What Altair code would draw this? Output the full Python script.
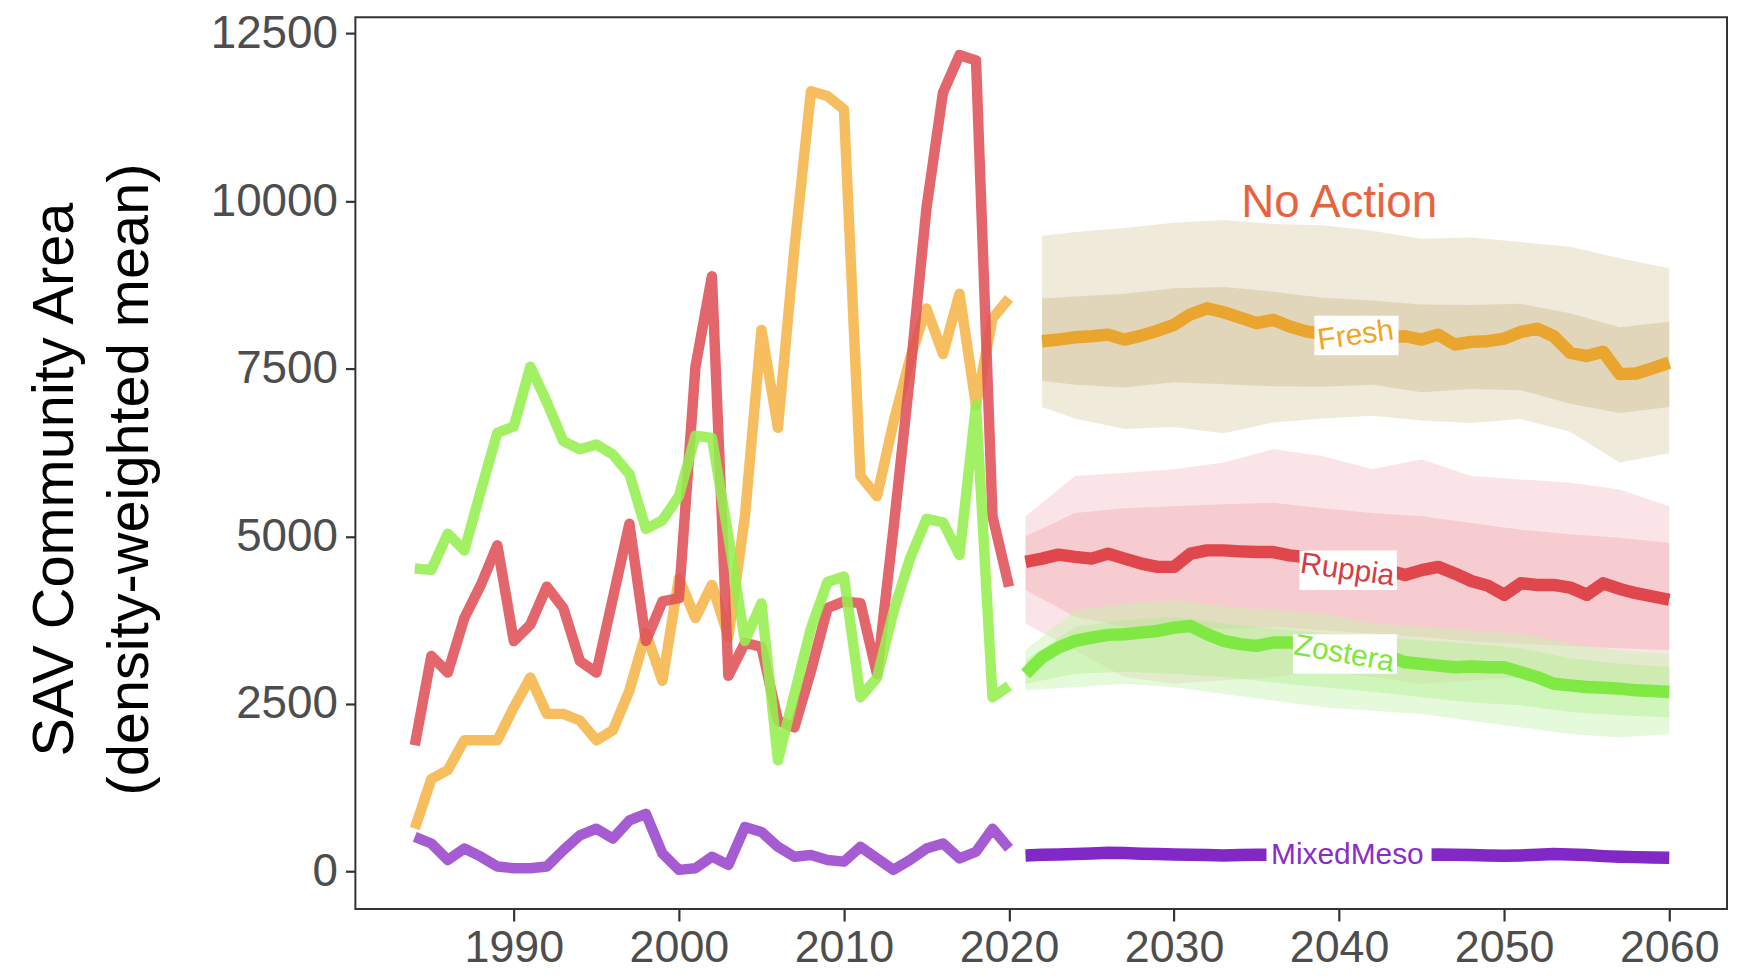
import altair as alt
import pandas as pd

# ---------------- data ----------------
hist_years = list(range(1984, 2021))
fresh_hist = [640, 1380, 1514, 1958, 1958, 1958, 2450, 2894, 2352, 2352,
              2253, 1958, 2106, 2697, 3560, 2845, 4374, 3782, 4275, 3500,
              5300, 8080, 6620, 9300, 11640, 11570, 11370, 5900, 5600, 6700,
              7650, 8400, 7720, 8620, 6950, 8250, 8550]
ruppia_hist = [1884, 3215, 2968, 3782, 4275, 4867, 3437, 3683, 4250, 3930,
               3141, 2968, 4078, 5187, 3437, 4029, 4078, 7525, 8880, 2919,
               3412, 3350, 2250, 2150, 2990, 3930, 4029, 4004, 2944, 5113,
               7400, 9900, 11620, 12180, 12100, 5300, 4250]
zostera_hist = [4520, 4500, 5040, 4790, 5680, 6545, 6640, 7530, 7000, 6420,
                6300, 6370, 6220, 5930, 5110, 5240, 5600, 6500, 6470, 5000,
                3440, 4000, 1660, 2650, 3630, 4320, 4400, 2600, 2890, 3880,
                4670, 5260, 5210, 4720, 6960, 2600, 2770]
mixed_hist = [516, 418, 172, 344, 221, 74, 49, 49, 74, 319,
              540, 639, 491, 762, 860, 270, 25, 49, 221, 98,
              663, 590, 368, 221, 246, 172, 147, 368, 196, 25,
              172, 344, 418, 196, 295, 639, 344]

proj_years = list(range(2021, 2061))
fresh_proj_years = list(range(2022, 2061))
fresh_proj = [7911, 7936, 7970, 7985, 8009, 7935, 7994, 8068, 8156,
              8313, 8402, 8343, 8264, 8181, 8230, 8131, 8058, 8019, 8000,
              7990, 7980, 7970, 7985, 7936, 8009, 7862, 7901, 7911, 7951,
              8049, 8098, 7985, 7739, 7690, 7754, 7420, 7430, 7508, 7592]
ruppia_proj = [4619, 4668, 4727, 4693, 4668, 4742, 4668, 4594, 4545, 4545,
               4742, 4791, 4791, 4776, 4766, 4766, 4717, 4690, 4650, 4610,
               4570, 4530, 4490, 4423, 4496, 4545, 4447, 4334, 4265, 4128,
               4300, 4275, 4275, 4236, 4128, 4300, 4216, 4152, 4103, 4054]
zostera_proj = [2949, 3195, 3342, 3441, 3490, 3530, 3540, 3564, 3589, 3638,
                3663, 3540, 3441, 3392, 3367, 3416, 3416, 3400, 3370, 3330,
                3290, 3250, 3210, 3121, 3097, 3072, 3048, 3058, 3048, 3048,
                2974, 2900, 2802, 2777, 2752, 2742, 2728, 2703, 2693, 2679]
mixed_proj = [240, 250, 255, 260, 270, 280, 275, 265, 260, 255,
              250, 245, 240, 245, 250, 250, 250, 250, 250, 250,
              250, 250, 250, 250, 250, 255, 250, 245, 240, 235,
              240, 250, 260, 255, 245, 230, 220, 215, 210, 205]

# ensemble envelopes (outer = full spread, inner = dense core)
band_years = [2021, 2024, 2027, 2030, 2033, 2036, 2039, 2042, 2045, 2048, 2051, 2054, 2057, 2060]
fresh_band_years = [2022, 2024, 2027, 2030, 2033, 2036, 2039, 2042, 2045, 2048, 2051, 2054, 2057, 2060]
fresh_outer_hi = [9480, 9540, 9600, 9680, 9720, 9660, 9640, 9560, 9440, 9460, 9390, 9320, 9150, 9000]
fresh_outer_lo = [6930, 6760, 6600, 6630, 6540, 6700, 6760, 6800, 6730, 6690, 6750, 6560, 6100, 6240]
fresh_inner_hi = [8550, 8580, 8620, 8700, 8720, 8650, 8560, 8520, 8460, 8450, 8470, 8330, 8120, 8200]
fresh_inner_lo = [7320, 7260, 7220, 7300, 7270, 7240, 7230, 7260, 7150, 7200, 7180, 6980, 6840, 6930]
ruppia_outer_hi = [5300, 5900, 5950, 6000, 6100, 6300, 6200, 6000, 6150, 5900, 5850, 5800, 5700, 5450]
ruppia_outer_lo = [3700, 3300, 2900, 2800, 2850, 2900, 3000, 2900, 2800, 2850, 2900, 2800, 2750, 2750]
ruppia_inner_hi = [5000, 5350, 5420, 5450, 5480, 5500, 5420, 5350, 5300, 5200, 5100, 5030, 4980, 4900]
ruppia_inner_lo = [4200, 3800, 3650, 3600, 3620, 3650, 3600, 3550, 3500, 3430, 3400, 3360, 3330, 3300]
zostera_outer_hi = [3300, 3900, 4000, 4050, 3950, 3900, 3850, 3700, 3650, 3600, 3550, 3400, 3300, 3250]
zostera_outer_lo = [2700, 2750, 2800, 2750, 2650, 2550, 2450, 2400, 2350, 2250, 2150, 2050, 2000, 2050]
zostera_inner_hi = [3150, 3650, 3750, 3800, 3700, 3620, 3560, 3500, 3450, 3400, 3330, 3180, 3100, 3050]
zostera_inner_lo = [2800, 2950, 2980, 2950, 2900, 2820, 2750, 2680, 2600, 2520, 2480, 2380, 2330, 2300]

series_names = ["Fresh", "Ruppia", "Zostera", "MixedMeso"]
hist_colors = ["#F5B548", "#DE5157", "#95EE4E", "#9845CC"]
proj_colors = ["#E9A226", "#DD3F45", "#7BE83C", "#7A1CC4"]

label_text = ["Fresh", "Ruppia", "Zostera", "MixedMeso"]
label_x = [2041.0, 2040.5, 2040.3, 2040.5]
label_y = [7995, 4496, 3246, 250]
label_angle = [352, 8, 10, 0]
label_color = ["#F0A422", "#D63C44", "#7EE63E", "#8A2CC8"]
box_x1 = [2038.5, 2037.6, 2037.2, 2035.6]
box_x2 = [2043.6, 2043.5, 2043.5, 2045.6]
box_y1 = [7700, 4200, 2950, -45]
box_y2 = [8290, 4790, 3540, 545]

title_text = ["No Action"]
title_x = [2040.0]
title_y = [9966]

x_ticks = [1990, 2000, 2010, 2020, 2030, 2040, 2050, 2060]
y_ticks = [0, 2500, 5000, 7500, 10000, 12500]

# ---------------- tables ----------------
hist_rows = []
for name, vals in zip(series_names, [fresh_hist, ruppia_hist, zostera_hist, mixed_hist]):
    for yr, v in zip(hist_years, vals):
        hist_rows.append({"series": name, "year": yr, "value": v})
hist_df = pd.DataFrame(hist_rows)

proj_rows = []
for name, yrs, vals in zip(series_names,
                           [fresh_proj_years, proj_years, proj_years, proj_years],
                           [fresh_proj, ruppia_proj, zostera_proj, mixed_proj]):
    for yr, v in zip(yrs, vals):
        proj_rows.append({"series": name, "year": yr, "value": v})
proj_df = pd.DataFrame(proj_rows)

band_specs = [
    ("fresh_outer", fresh_band_years, fresh_outer_lo, fresh_outer_hi, "#DCCCA6", 0.42),
    ("fresh_inner", fresh_band_years, fresh_inner_lo, fresh_inner_hi, "#C2A86F", 0.30),
    ("ruppia_outer", band_years, ruppia_outer_lo, ruppia_outer_hi, "#F4B3B9", 0.35),
    ("ruppia_inner", band_years, ruppia_inner_lo, ruppia_inner_hi, "#EA8890", 0.26),
    ("zostera_outer", band_years, zostera_outer_lo, zostera_outer_hi, "#C6F4AE", 0.45),
    ("zostera_inner", band_years, zostera_inner_lo, zostera_inner_hi, "#A6EC80", 0.35),
]
band_rows = []
for key, yrs, lo, hi, _c, _o in band_specs:
    for yr, a, b in zip(yrs, lo, hi):
        band_rows.append({"key": key, "year": yr, "lo": a, "hi": b})
band_df = pd.DataFrame(band_rows)

label_df = pd.DataFrame({
    "text": label_text, "x": label_x, "y": label_y, "angle": label_angle,
    "color": label_color, "x1": box_x1, "x2": box_x2, "y1": box_y1, "y2": box_y2,
})
title_df = pd.DataFrame({"text": title_text, "x": title_x, "y": title_y})

# ---------------- encodings ----------------
FONT = "Liberation Sans"
x_scale = alt.Scale(domain=[1980.4, 2063.5], nice=False, zero=False)
y_scale = alt.Scale(domain=[-560, 12745], nice=False, zero=False)

x_axis = alt.Axis(values=x_ticks, format="d", title=None, grid=False, domain=False,
                  labelFontSize=45, labelColor="#4D4D4D", labelFont=FONT,
                  tickSize=12, tickWidth=2.2, tickColor="#333333", labelPadding=5,
                  labelFlush=False, labelOverlap=False)
y_axis = alt.Axis(values=y_ticks, format="d", grid=False, domain=False,
                  title=["SAV Community Area", "(density-weighted mean)"],
                  titleFontSize=58, titleFont=FONT, titleFontWeight="normal",
                  titleColor="#000000", titleLineHeight=75, titleAngle=270,
                  titleBaseline="top", titleAlign="center", titleX=-330, titleY=464,
                  labelFontSize=46, labelColor="#4D4D4D", labelFont=FONT,
                  tickSize=10, tickWidth=2.2, tickColor="#333333", labelPadding=8,
                  labelFlush=False, labelOverlap=False)


def X(field="year"):
    return alt.X(f"{field}:Q", scale=x_scale, axis=x_axis)


def Y(field="value"):
    return alt.Y(f"{field}:Q", scale=y_scale, axis=y_axis)


layers = []
for key, yrs, lo, hi, col, op in band_specs:
    layers.append(
        alt.Chart(band_df).transform_filter(f"datum.key == '{key}'")
        .mark_area(color=col, opacity=op, interpolate="linear")
        .encode(x=X(), y=Y("lo"), y2=alt.Y2("hi:Q"))
    )

proj_layer = alt.Chart(proj_df).mark_line(strokeWidth=12.5, strokeJoin="round", opacity=0.95).encode(
    x=X(), y=Y(),
    color=alt.Color("series:N", scale=alt.Scale(domain=series_names, range=proj_colors), legend=None),
    detail="series:N",
)
hist_layer = alt.Chart(hist_df).mark_line(strokeWidth=10.5, strokeJoin="round", opacity=0.88).encode(
    x=X(), y=Y(),
    color=alt.Color("series:N", scale=alt.Scale(domain=series_names, range=hist_colors), legend=None),
    detail="series:N",
    order=alt.Order("year:Q"),
)
box_layer = alt.Chart(label_df).mark_rect(color="white", opacity=1).encode(
    x=X("x1"), x2=alt.X2("x2:Q"), y=Y("y1"), y2=alt.Y2("y2:Q"),
)
text_layer = alt.Chart(label_df).mark_text(fontSize=30, font=FONT, align="center",
                                           baseline="middle").encode(
    x=X("x"), y=Y("y"), text="text:N",
    angle=alt.Angle("angle:Q", scale=None),
    color=alt.Color("color:N", scale=None),
)
title_layer = alt.Chart(title_df).mark_text(fontSize=46, font=FONT, align="center",
                                            baseline="middle", color="#E8633D").encode(
    x=X("x"), y=Y("y"), text="text:N",
)

chart = alt.layer(*layers, proj_layer, hist_layer, box_layer, text_layer, title_layer).resolve_scale(
    color="independent"
).properties(
    width=1378, height=896,
    autosize=alt.AutoSizeParams(type="none"),
    padding={"left": 349, "top": 7, "right": 3, "bottom": 60},
    background="white",
).configure_view(stroke="#333333", strokeWidth=2)

chart.save("out.html", embed_options={"renderer": "svg", "actions": False})
